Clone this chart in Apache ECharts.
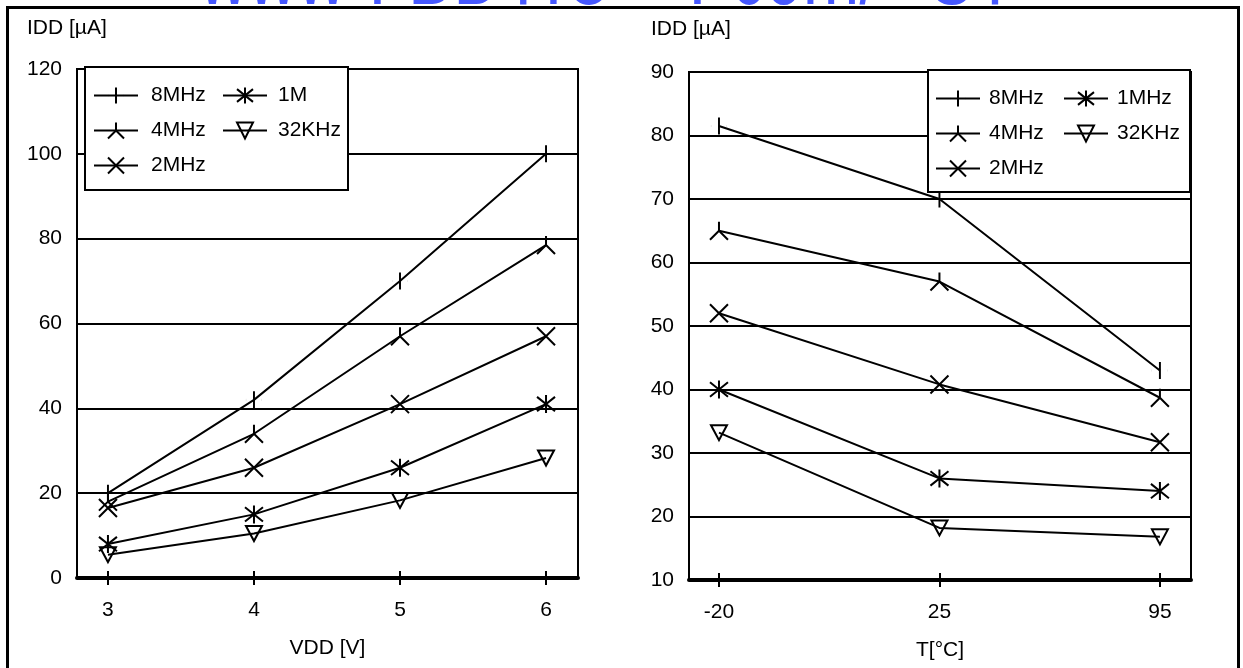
<!DOCTYPE html>
<html><head><meta charset="utf-8">
<script src="https://cdn.jsdelivr.net/npm/echarts@6/dist/echarts.min.js"></script>
<style>html,body{margin:0;padding:0;background:#fff}#c{width:1243px;height:668px}</style>
</head><body><div id="c"></div>
<script>
// ---- data ----
const vddValues = [3, 4, 5, 6];
const tempLabels = ['-20', '25', '95'];
const tempIndex = [0, 1, 2];
const leftNames = ['8MHz', '4MHz', '2MHz', '1M', '32KHz'];
const rightNames = ['8MHz', '4MHz', '2MHz', '1MHz', '32KHz'];
const vdd8MHz = [20, 42, 70, 100];
const vdd4MHz = [18, 34, 57, 78.5];
const vdd2MHz = [16.5, 26, 41, 57];
const vdd1MHz = [8, 15, 26, 41];
const vdd32KHz = [5.5, 10.5, 18.3, 28.3];
const temp8MHz = [81.5, 70, 43];
const temp4MHz = [65, 57, 38.7];
const temp2MHz = [52, 40.8, 31.7];
const temp1MHz = [40, 26, 24];
const temp32KHz = [33.2, 18.2, 16.8];
const leftYTicks = {min: 0, max: 120, interval: 20};
const rightYTicks = {min: 10, max: 90, interval: 10};

const FONT = '"Liberation Sans", Arial, sans-serif';
const symbolDefs = [
  {symbol: 'path://M0,-1L0,1M-1,0L-0.99,0M1,0L0.99,0', size: [16, 17]},
  {symbol: 'path://M0,-1L0,0L-1,1M0,0L1,1', size: [18, 18]},
  {symbol: 'path://M-1,-1L1,1M-1,1L1,-1', size: [18, 18]},
  {symbol: 'path://M0,-1L0,1M-0.8,-0.8L0.8,0.8M-0.8,0.8L0.8,-0.8', size: [18, 18]},
  {symbol: 'path://M-1,-0.8L1,-0.8L0,1Z', size: [16, 15]}
];

function mkSeries(name, xs, ys, k, gi) {
  return {
    type: 'line', name: name, xAxisIndex: gi * 2, yAxisIndex: gi,
    data: xs.map((x, i) => [x, ys[i]]),
    symbol: symbolDefs[k].symbol, symbolSize: symbolDefs[k].size,
    showAllSymbol: true,
    lineStyle: {color: '#000', width: 2},
    itemStyle: {color: 'rgba(0,0,0,0)', borderColor: '#000', borderWidth: 2},
    emphasis: {disabled: true},
    z: 3
  };
}
const leftData = [vdd8MHz, vdd4MHz, vdd2MHz, vdd1MHz, vdd32KHz];
const rightData = [temp8MHz, temp4MHz, temp2MHz, temp1MHz, temp32KHz];
const series = [];
leftData.forEach((d, k) => series.push(mkSeries(leftNames[k], vddValues, d, k, 0)));
rightData.forEach((d, k) => series.push(mkSeries(rightNames[k], tempIndex, d, k, 1)));

const labelStyle = {fontSize: 21, color: '#000', fontFamily: FONT};
function mainX(gi, min, max, vals, fmt, name) {
  return {
    gridIndex: gi, type: 'value', position: 'bottom', min: min, max: max,
    axisLine: {show: true, onZero: false, lineStyle: {color: '#000', width: 4}},
    axisTick: {show: true, length: 7, customValues: vals, lineStyle: {color: '#000', width: 2}},
    axisLabel: Object.assign({show: true, customValues: vals, margin: 22, formatter: fmt}, labelStyle),
    splitLine: {show: false},
    name: name, nameLocation: 'middle', nameGap: 60,
    nameTextStyle: labelStyle
  };
}
function innerX(gi, min, max, vals) {
  return {
    gridIndex: gi, type: 'value', position: 'bottom', min: min, max: max,
    axisLine: {show: false, onZero: false},
    axisTick: {show: true, inside: true, length: 7, customValues: vals, lineStyle: {color: '#000', width: 2}},
    axisLabel: {show: false}, splitLine: {show: false}
  };
}
function mkY(gi, t) {
  return {
    gridIndex: gi, type: 'value', min: t.min, max: t.max, interval: t.interval,
    axisLine: {show: false}, axisTick: {show: false},
    axisLabel: Object.assign({margin: 15}, labelStyle),
    splitLine: {show: true, lineStyle: {color: '#000', width: 2}}
  };
}
function legendCommon(pad) {
  return {
    orient: 'vertical', itemWidth: 44, itemHeight: 20, itemGap: 14, padding: 0,
    selectedMode: false, z: 10,
    textStyle: {fontSize: 21, color: '#000', fontFamily: FONT, padding: [0, 0, 0, pad]}
  };
}
function wm(text, x) {
  return {type: 'text', x: x, y: 26, scaleX: 0.68, z: 100, silent: true,
    style: {text: text, x: 0, y: 0, fill: '#4658ff', font: '100px "Liberation Sans", Arial, sans-serif',
      textAlign: 'left', textVerticalAlign: 'bottom', textBaseline: 'alphabetic'}};
}

const chart = echarts.init(document.getElementById('c'), null, {renderer: 'canvas'});
chart.setOption({
  animation: false,
  backgroundColor: '#fff',
  grid: [
    {left: 77, top: 69, width: 501, height: 509, show: true, borderColor: '#000', borderWidth: 2, containLabel: false},
    {left: 689, top: 72, width: 502, height: 508, show: true, borderColor: '#000', borderWidth: 2, containLabel: false}
  ],
  xAxis: [
    mainX(0, 2.788, 6.219, vddValues, v => String(v), 'VDD [V]'),
    innerX(0, 2.788, 6.219, vddValues),
    mainX(1, -0.136, 2.141, tempIndex, v => tempLabels[Math.round(v)], 'T[°C]'),
    innerX(1, -0.136, 2.141, tempIndex)
  ],
  yAxis: [mkY(0, leftYTicks), mkY(1, rightYTicks)],
  legend: [
    Object.assign({left: 93, top: 85, data: leftNames.slice(0, 3)}, legendCommon(8)),
    Object.assign({left: 222, top: 85, data: leftNames.slice(3)}, legendCommon(6)),
    Object.assign({left: 935, top: 88, data: rightNames.slice(0, 3)}, legendCommon(4)),
    Object.assign({left: 1063, top: 88, data: rightNames.slice(3)}, legendCommon(4))
  ],
  series: series,
  graphic: [
    {type: 'rect', z: 8, silent: true, shape: {x: 85, y: 67, width: 263, height: 123},
      style: {fill: '#fff', stroke: '#000', lineWidth: 2}},
    {type: 'rect', z: 8, silent: true, shape: {x: 928, y: 70, width: 262, height: 122},
      style: {fill: '#fff', stroke: '#000', lineWidth: 2}},
    {type: 'text', x: 27, y: 28, z: 20, silent: true,
      style: {text: 'IDD [µA]', fill: '#000', font: '21px "Liberation Sans", Arial, sans-serif', textVerticalAlign: 'middle'}},
    {type: 'text', x: 651, y: 29, z: 20, silent: true,
      style: {text: 'IDD [µA]', fill: '#000', font: '21px "Liberation Sans", Arial, sans-serif', textVerticalAlign: 'middle'}},
    wm('www', 199), wm('.', 368), wm('BDTIC', 408), wm('.', 688), wm('com/', 731), wm('ST', 929),
    {type: 'rect', z: 200, silent: true, shape: {x: 7.5, y: 7.5, width: 1231, height: 700},
      style: {fill: 'none', stroke: '#000', lineWidth: 3}}
  ]
});
</script></body></html>
